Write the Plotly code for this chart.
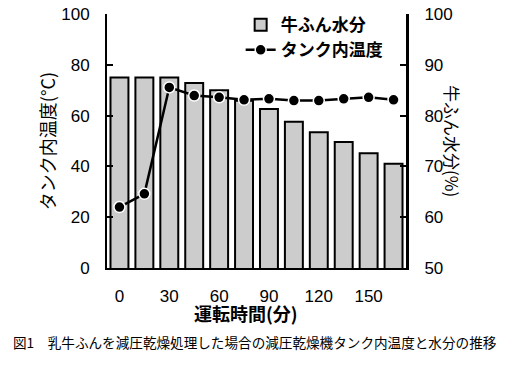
import plotly.graph_objects as go

time_min = [0, 15, 30, 45, 60, 75, 90, 105, 120, 135, 150, 165]
moisture = [87.5, 87.5, 87.5, 86.4, 85.0, 82.9, 81.3, 78.8, 76.7, 74.8, 72.6, 70.5]
tank_temp = [24.0, 29.2, 71.1, 67.9, 67.2, 66.2, 66.6, 65.9, 65.9, 66.6, 67.2, 66.2]
x_ticks = [0, 30, 60, 90, 120, 150]
left_ticks = [0, 20, 40, 60, 80, 100]
right_ticks = [50, 60, 70, 80, 90, 100]

FONT = "Liberation Sans, Arial, Noto Sans CJK JP"
JP = "Noto Sans CJK JP, sans-serif"

fig = go.Figure()
fig.add_trace(go.Bar(
    x=time_min, y=moisture, name="牛ふん水分", yaxis="y",
    marker=dict(color="#cccccc", line=dict(color="black", width=2)),
))
fig.add_trace(go.Scatter(
    x=time_min, y=tank_temp, name="タンク内温度", yaxis="y2",
    mode="lines+markers",
    line=dict(color="black", width=2.5),
    marker=dict(color="black", size=11, line=dict(color="white", width=1.5)),
))

# page body has an 8px default margin, so the figure is sized 502x370
fig.update_layout(
    width=502, height=370,
    margin=dict(l=99, r=104, t=6, b=110, autoexpand=False),
    paper_bgcolor="white", plot_bgcolor="white",
    font=dict(family=FONT, size=17, color="black"),
    bargap=0.28,
    showlegend=True,
    legend=dict(x=0.447, y=1.027, xanchor="left", yanchor="top",
                bgcolor="rgba(0,0,0,0)", borderwidth=0,
                font=dict(family=JP, size=17, weight="bold"),
                traceorder="normal", itemwidth=30),
    xaxis=dict(range=[-7.5, 172.5], tickvals=x_ticks, ticks="",
               showline=True, linecolor="black", linewidth=2,
               showgrid=False, zeroline=False, ticklabelstandoff=12,
               automargin=False, tickfont=dict(size=17)),
    yaxis=dict(range=[50, 100], tickvals=right_ticks, side="right",
               ticks="inside", ticklen=6, tickwidth=2, tickcolor="black",
               showline=True, linecolor="black", linewidth=3,
               showgrid=False, zeroline=False, ticklabelstandoff=12,
               ticklabeloverflow="allow",
               automargin=False, tickfont=dict(size=17)),
    yaxis2=dict(range=[0, 100], tickvals=left_ticks, side="left",
                overlaying="y", anchor="x",
                ticks="inside", ticklen=6, tickwidth=2, tickcolor="black",
                showline=True, linecolor="black", linewidth=2,
                showgrid=False, zeroline=False, ticklabelstandoff=12,
                ticklabeloverflow="allow",
                automargin=False, tickfont=dict(size=17)),
    annotations=[
        dict(text="タンク内温度(°C)", xref="paper", yref="paper",
             x=-0.2, y=0.5, textangle=-90, showarrow=False,
             xanchor="center", yanchor="middle",
             font=dict(family=JP, size=18)),
        dict(text="牛ふん水分(%)", xref="paper", yref="paper",
             x=1.157, y=0.5, textangle=90, showarrow=False,
             xanchor="center", yanchor="middle",
             font=dict(family=JP, size=17)),
        dict(text="運転時間(分)", xref="paper", yref="paper",
             x=0.465, y=-0.178, showarrow=False,
             xanchor="center", yanchor="middle",
             font=dict(family=JP, size=18, weight="bold")),
        dict(text="図1　乳牛ふんを減圧乾燥処理した場合の減圧乾燥機タンク内温度と水分の推移",
             xref="paper", yref="paper",
             x=0.495, y=-0.29, showarrow=False,
             xanchor="center", yanchor="middle",
             font=dict(family=JP, size=13.6)),
    ],
)

fig.write_html("out.html")
